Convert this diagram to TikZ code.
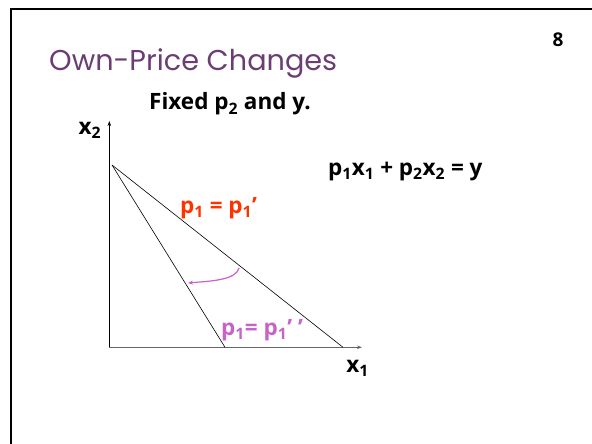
\documentclass[tikz,border=0pt]{standalone}
\usepackage{fontspec}
\setmainfont{Open Sans}
\newfontfamily\titlefont{Poppins}
\usetikzlibrary{arrows.meta,positioning,calc}
\definecolor{slidePurple}{HTML}{6B3D73}
\definecolor{priceRed}{HTML}{FF3300}
\definecolor{priceViolet}{HTML}{C563C8}

\begin{document}
\begin{tikzpicture}[x=1pt,y=-1pt,
    lbl/.style={font=\fontsize{22.5}{26}\selectfont\bfseries,inner sep=0pt},
    budget/.style={black,line width=0.6pt}]
      \useasboundingbox (0,0) rectangle (592,444);
      \draw[line width=2.2pt] (11,444) -- (11,9) -- (592,9);
      \node[anchor=west,inner sep=0pt,text=slidePurple,font=\titlefont\fontsize{28.7}{32}\selectfont] (title) at (49,63)
        {Own-Price Changes};
      \node[font=\fontsize{19}{22}\selectfont\bfseries,inner sep=0pt] (page) at (558,40) {8};
      \node[lbl,anchor=west] (fixed) at (149,104) {Fixed p\textsubscript{2} and y.};
      \node[lbl,anchor=west] (budgetEq) at (328,171) {p\textsubscript{1}x\textsubscript{1} + p\textsubscript{2}x\textsubscript{2} = y};
      % axes
      \coordinate (O) at (109.3,347.3);
      \coordinate (ytop) at (109.3,121);
      \coordinate (xend) at (362,347.3);
      \draw[-{Stealth[length=5pt,width=3.5pt]},line width=0.6pt] (O) -- (ytop);
      \draw[-{Stealth[length=5pt,width=3.5pt]},black!60,line width=1.1pt] (O) -- (xend);
      \node[lbl,left=8pt of ytop,yshift=-9pt] (xtwo) {x\textsubscript{2}};
      \node[lbl,below left=13pt and -7pt of xend] (xone) {x\textsubscript{1}};
      % budget lines
      \coordinate (A) at (112,165);
      \coordinate (B) at (343,347.3);
      \coordinate (C) at (225,347.3);
      \draw[budget] (A) -- (B);
      \draw[budget] (A) -- (C);
      \node[lbl,text=priceRed,anchor=west] (oldPrice) at (180,208) {p\textsubscript{1} = p\textsubscript{1}’};
      \node[lbl,text=priceViolet,anchor=west] (newPrice) at (221,330) {p\textsubscript{1}= p\textsubscript{1}’ ’};
      % pivot arrow
      \coordinate (arcS) at (239,268);
      \coordinate (arcE) at (188,283);
      \draw[-{Stealth[length=5pt,width=4pt]},priceViolet,line width=1.2pt] (arcS) .. controls (236,280) and (212,281) .. (arcE);
    \end{tikzpicture}
\end{document}
